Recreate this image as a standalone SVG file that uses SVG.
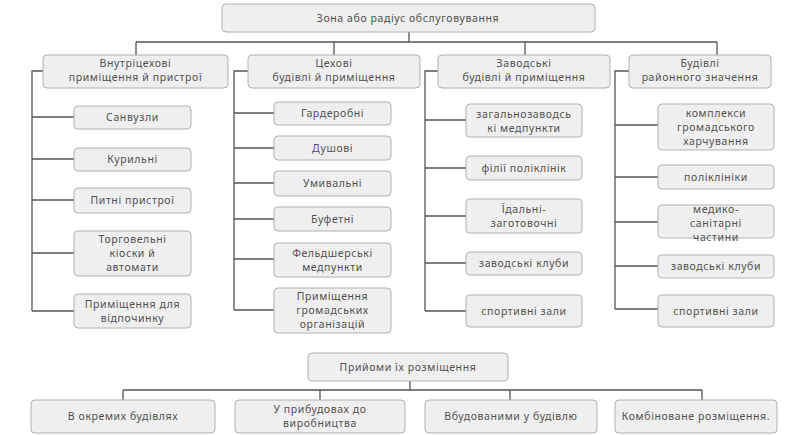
<svg xmlns="http://www.w3.org/2000/svg" width="785" height="435" viewBox="0 0 785 435">
<style>
.b{fill:#efefef;stroke:#b0b0b0;stroke-width:1}
.t{font-family:"Noto Sans","DejaVu Sans",sans-serif;font-size:10.5px;letter-spacing:0.6px;fill:#505050;text-anchor:middle}
.c{fill:none;stroke:#555;stroke-width:1.3}
</style>
<rect width="785" height="435" fill="#fff"/>
<g id="connectors" class="c">
<path d="M409 32V42M136 42H717M136 42V55M334 42V55M525 42V55M717 42V55"/>
<path d="M43 71H32V311M32 117H74M32 159H74M32 200H74M32 253H74M32 311H74"/>
<path d="M248 71H234V310M234 113H274M234 148H274M234 183H274M234 219H274M234 259H274M234 310H274"/>
<path d="M438 71H425V311M425 120H466M425 168H466M425 216H466M425 263H466M425 311H466"/>
<path d="M629 71H615V309M615 125H658M615 177H658M615 222H658M615 266H658M615 309H658"/>
<path d="M410 381V390M123 390H702M123 390V400M320 390V400M510 390V400M702 390V400"/>
</g>
<g id="root"><rect class="b" x="222" y="4" width="373" height="28" rx="4"/><text class="t" x="408" y="22">Зона або радіус обслуговування</text></g>
<g id="l1a"><rect class="b" x="43" y="55" width="185" height="33" rx="4"/><text class="t" x="135.5" y="67">Внутріцехові</text><text class="t" x="135.5" y="81">приміщення й пристрої</text></g>
<g id="l1b"><rect class="b" x="248" y="55" width="172" height="33" rx="4"/><text class="t" x="334" y="67">Цехові</text><text class="t" x="334" y="81">будівлі й приміщення</text></g>
<g id="l1c"><rect class="b" x="438" y="55" width="172" height="33" rx="4"/><text class="t" x="524" y="67">Заводські</text><text class="t" x="524" y="81">будівлі й приміщення</text></g>
<g id="l1d"><rect class="b" x="629" y="55" width="142" height="33" rx="4"/><text class="t" x="700" y="67">Будівлі</text><text class="t" x="700" y="81">районного значення</text></g>

<g id="a1"><rect class="b" x="74" y="106" width="117" height="23" rx="4"/><text class="t" x="132.5" y="121">Санвузли</text></g>
<g id="a2"><rect class="b" x="74" y="148" width="117" height="23" rx="4"/><text class="t" x="132.5" y="163">Курильні</text></g>
<g id="a3"><rect class="b" x="74" y="188" width="117" height="25" rx="4"/><text class="t" x="132.5" y="204">Питні пристрої</text></g>
<g id="a4"><rect class="b" x="74" y="231" width="117" height="45" rx="4"/><text class="t" x="132.5" y="243">Торговельні</text><text class="t" x="132.5" y="257">кіоски й</text><text class="t" x="132.5" y="271">автомати</text></g>
<g id="a5"><rect class="b" x="74" y="294" width="117" height="34" rx="4"/><text class="t" x="132.5" y="308">Приміщення для</text><text class="t" x="132.5" y="322">відпочинку</text></g>

<g id="b1"><rect class="b" x="274" y="102" width="117" height="23" rx="4"/><text class="t" x="332.5" y="117">Гардеробні</text></g>
<g id="b2"><rect class="b" x="274" y="136" width="117" height="24" rx="4"/><text class="t" x="332.5" y="152">Душові</text></g>
<g id="b3"><rect class="b" x="274" y="171" width="117" height="25" rx="4"/><text class="t" x="332.5" y="187">Умивальні</text></g>
<g id="b4"><rect class="b" x="274" y="207" width="117" height="24" rx="4"/><text class="t" x="332.5" y="223">Буфетні</text></g>
<g id="b5"><rect class="b" x="274" y="243" width="117" height="34" rx="4"/><text class="t" x="332.5" y="257">Фельдшерські</text><text class="t" x="332.5" y="271">медпункти</text></g>
<g id="b6"><rect class="b" x="274" y="288" width="117" height="45" rx="4"/><text class="t" x="332.5" y="300">Приміщення</text><text class="t" x="332.5" y="314">громадських</text><text class="t" x="332.5" y="328">організацій</text></g>

<g id="c1"><rect class="b" x="466" y="104" width="116" height="33" rx="4"/><text class="t" x="524" y="118">загальнозаводсь</text><text class="t" x="524" y="132">кі медпункти</text></g>
<g id="c2"><rect class="b" x="466" y="156" width="116" height="24" rx="4"/><text class="t" x="524" y="172">філії поліклінік</text></g>
<g id="c3"><rect class="b" x="466" y="199" width="116" height="34" rx="4"/><text class="t" x="524" y="213">Їдальні-</text><text class="t" x="524" y="227">заготовочні</text></g>
<g id="c4"><rect class="b" x="466" y="252" width="116" height="23" rx="4"/><text class="t" x="524" y="267">заводські клуби</text></g>
<g id="c5"><rect class="b" x="466" y="295" width="116" height="32" rx="4"/><text class="t" x="524" y="315">спортивні зали</text></g>

<g id="d1"><rect class="b" x="658" y="104" width="116" height="46" rx="4"/><text class="t" x="716" y="117">комплекси</text><text class="t" x="716" y="131">громадського</text><text class="t" x="716" y="145">харчування</text></g>
<g id="d2"><rect class="b" x="658" y="165" width="116" height="24" rx="4"/><text class="t" x="716" y="181">поліклініки</text></g>
<g id="d3"><rect class="b" x="658" y="205" width="116" height="33" rx="4"/><text class="t" x="716" y="213">медико-</text><text class="t" x="716" y="227">санітарні</text><text class="t" x="716" y="241">частини</text></g>
<g id="d4"><rect class="b" x="658" y="255" width="116" height="23" rx="4"/><text class="t" x="716" y="270">заводські клуби</text></g>
<g id="d5"><rect class="b" x="658" y="295" width="116" height="32" rx="4"/><text class="t" x="716" y="315">спортивні зали</text></g>

<g id="root2"><rect class="b" x="308" y="353" width="200" height="28" rx="4"/><text class="t" x="408" y="371">Прийоми їх розміщення</text></g>
<g id="e1"><rect class="b" x="31" y="400" width="184" height="33" rx="4"/><text class="t" x="123" y="420">В окремих будівлях</text></g>
<g id="e2"><rect class="b" x="235" y="400" width="170" height="33" rx="4"/><text class="t" x="320" y="413">У прибудовах до</text><text class="t" x="320" y="427">виробництва</text></g>
<g id="e3"><rect class="b" x="425" y="400" width="172" height="33" rx="4"/><text class="t" x="511" y="420">Вбудованими у будівлю</text></g>
<g id="e4"><rect class="b" x="615" y="400" width="162" height="33" rx="4"/><text class="t" x="696" y="420">Комбіноване розміщення.</text></g>
</svg>
